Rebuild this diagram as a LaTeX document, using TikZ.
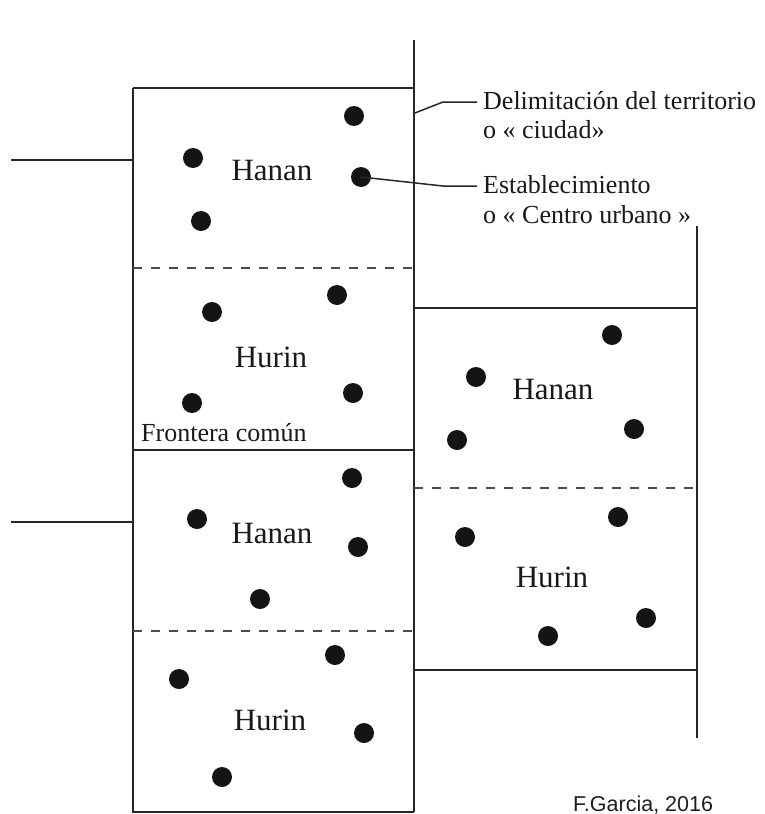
\documentclass[tikz,border=0pt]{standalone}
\usepackage{fontspec}
\setmainfont{Liberation Serif}
\newfontfamily\creditfont{Liberation Sans}
\begin{document}
\begin{tikzpicture}[x=1pt,y=-1pt,
  ln/.style={line width=2pt, draw=black!85},
  dsh/.style={line width=2pt, draw=black!70, dash pattern=on 9pt off 9pt},
  lead/.style={line width=1.5pt, draw=black!85},
  dot/.style={circle, fill=black!92, inner sep=0pt, minimum size=20pt},
  lab/.style={font=\fontsize{31}{36}\selectfont, text=black!90, inner sep=0pt},
  note/.style={font=\fontsize{26}{29}\selectfont, text=black!90, inner sep=0pt, anchor=base west}]
\useasboundingbox (0,0) rectangle (764,814);
% left territory
\draw[ln] (414,40) -- (414,812);
\draw[ln] (133,88) -- (414,88);
\draw[ln] (133,88) -- (133,812) -- (414,812);
\draw[ln] (133,450) -- (414,450);
\draw[ln] (11,160) -- (133,160);
\draw[ln] (11,522) -- (133,522);
\draw[dsh] (133,268) -- (414,268);
\draw[dsh] (133,631) -- (414,631);
% right territory
\draw[ln] (697,226) -- (697,738);
\draw[ln] (414,308) -- (697,308);
\draw[ln] (414,670) -- (697,670);
\draw[dsh] (414,488) -- (697,488);
% labels
\node[lab] (l1) at (272,170) {Hanan};
\node[lab] (l2) at (271,357) {Hurin};
\node[lab] (l3) at (272,533) {Hanan};
\node[lab] (l4) at (270,720) {Hurin};
\node[lab] (l5) at (553,389) {Hanan};
\node[lab] (l6) at (552,577) {Hurin};
\node[note] (front) at (141,441) {Frontera común};
% dots
\node[dot] (a1) at (354,116) {};
\node[dot] (a2) at (193,158) {};
\node[dot] (a3) at (361,177) {};
\node[dot] (a4) at (201,221) {};
\node[dot] (b1) at (337,295) {};
\node[dot] (b2) at (212,312) {};
\node[dot] (b3) at (353,393) {};
\node[dot] (b4) at (192,403) {};
\node[dot] (c1) at (352,478) {};
\node[dot] (c2) at (197,519) {};
\node[dot] (c3) at (358,547) {};
\node[dot] (c4) at (260,599) {};
\node[dot] (e1) at (335,655) {};
\node[dot] (e2) at (179,679) {};
\node[dot] (e3) at (364,733) {};
\node[dot] (e4) at (222,777) {};
\node[dot] (f1) at (612,335) {};
\node[dot] (f2) at (476,377) {};
\node[dot] (f3) at (634,429) {};
\node[dot] (f4) at (457,440) {};
\node[dot] (g1) at (618,517) {};
\node[dot] (g2) at (465,537) {};
\node[dot] (g3) at (646,618) {};
\node[dot] (g4) at (548,636) {};
% annotations
\node[note] (del1) at (483,109) {Delimitación del territorio};
\node[note] (del2) at (483,138) {o « ciudad»};
\node[note] (est1) at (483,193) {Establecimiento};
\node[note] (est2) at (483,223) {o « Centro urbano »};
\coordinate (p1) at (415,113);
\coordinate (p2) at (443,102);
\coordinate (q2) at (443,186);
\draw[lead] (p1) -- (p2) -- ([xshift=-6pt]del1.west |- p2);
\draw[lead] (a3.center) -- (q2) -- ([xshift=-6pt]est1.west |- q2);
% credit
\node[anchor=base west, inner sep=0pt, text=black!88, font=\creditfont\fontsize{21.5}{24}\selectfont] (credit) at (573,811) {F.Garcia, 2016};
\end{tikzpicture}
\end{document}
